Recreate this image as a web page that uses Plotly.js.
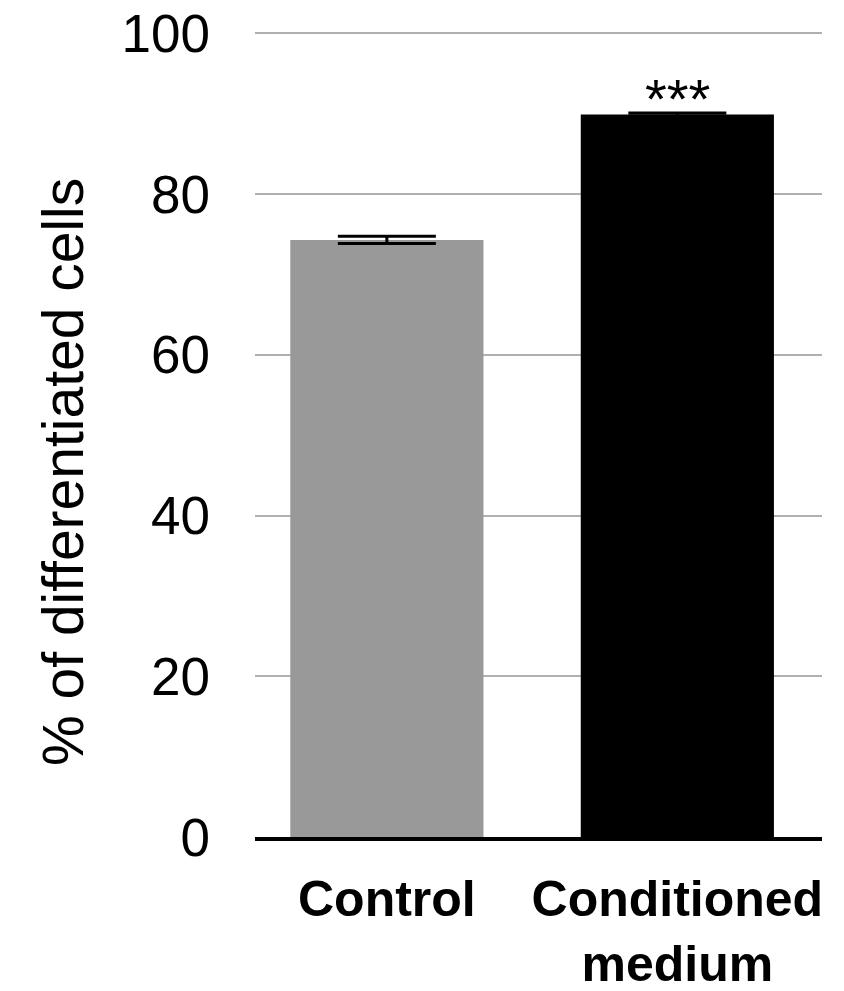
<!DOCTYPE html>
<html>
<head>
<meta charset="utf-8">
<script src="https://cdn.plot.ly/plotly-3.0.1.min.js"></script>
<style>html,body{margin:0;padding:0;background:#fff;}#chart{width:844px;height:991px;}</style>
</head>
<body>
<div id="chart"></div>
<script>
var categories = ["Control", "Conditioned<br>medium"];
var values = [74.3, 89.9];
var errors = [0.45, 0.2];
var barColors = ["#999999", "#000000"];
var yTicks = [0, 20, 40, 60, 80, 100];
var significance = "***";
var yTitle = "% of differentiated cells";

var trace = {
  type: "bar",
  x: categories,
  y: values,
  marker: {color: barColors, line: {width: 0}},
  width: 0.665,
  error_y: {type: "data", array: errors, visible: true, color: "#000", thickness: 3, width: 49},
  hoverinfo: "none"
};

var layout = {
  width: 844, height: 991,
  margin: {l: 255, r: 22, t: 31, b: 154},
  paper_bgcolor: "#fff", plot_bgcolor: "#fff",
  showlegend: false,
  font: {family: "Liberation Sans, Arial, sans-serif", color: "#000"},
  xaxis: {
    type: "category",
    range: [-0.454, 1.498],
    showline: true, linecolor: "#000", linewidth: 4,
    showgrid: false, zeroline: false, ticks: "",
    tickfont: {size: 50, family: "Liberation Sans, Arial, sans-serif", weight: "bold"},
    ticklabelstandoff: 15
  },
  yaxis: {
    range: [0, 100.3],
    tickvals: yTicks,
    ticktext: yTicks.map(String),
    showgrid: true, gridcolor: "#b0b0b0", gridwidth: 2,
    zeroline: false, showline: false, ticks: "",
    tickfont: {size: 53},
    ticklabelstandoff: 44
  },
  annotations: [{
    x: 1, y: values[1] + errors[1], xref: "x", yref: "y",
    text: significance, showarrow: false,
    yanchor: "bottom", yshift: -19,
    font: {size: 56, family: "Liberation Sans, Arial, sans-serif"}
  }, {
    x: 0, y: 0, xref: "paper", yref: "paper",
    text: yTitle, showarrow: false, textangle: -90,
    xanchor: "center", yanchor: "middle",
    font: {size: 57, family: "Liberation Sans, Arial, sans-serif"}
  }]
};
// place the title at pixel (63, 472) in paper fractions
var pw = 844 - 255 - 22, ph = 991 - 31 - 154;
layout.annotations[1].x = (63 - 255) / pw;
layout.annotations[1].y = (991 - 154 - 472) / ph;

Plotly.newPlot("chart", [trace], layout, {displayModeBar: false, staticPlot: true});
</script>
</body>
</html>
